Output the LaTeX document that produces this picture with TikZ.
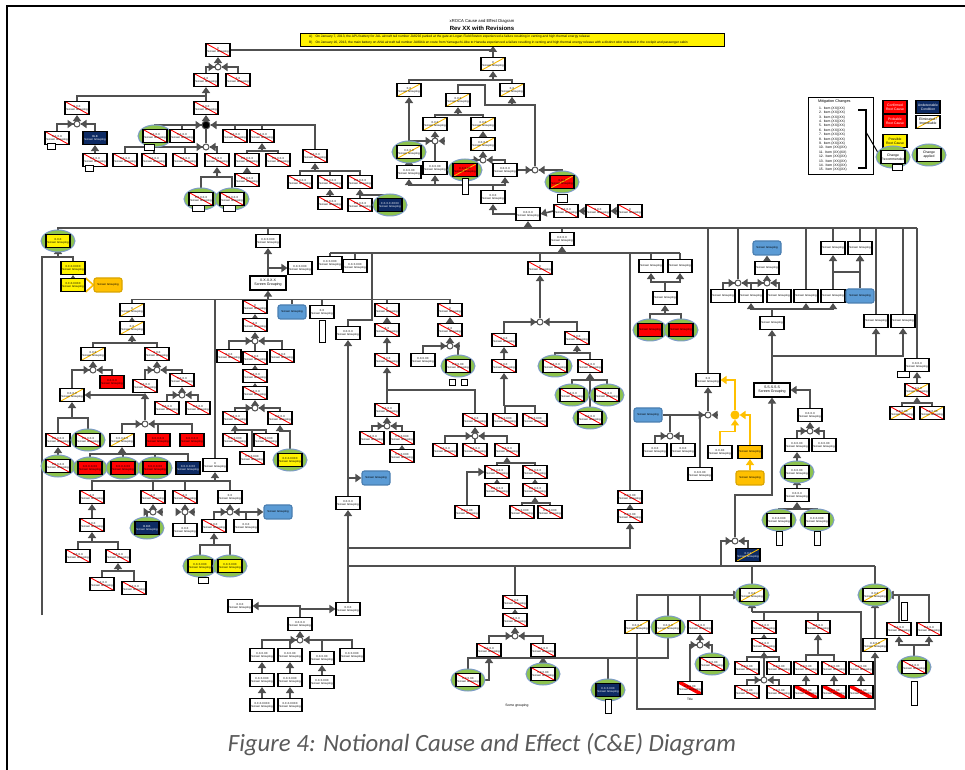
\documentclass[tikz,border=0pt]{standalone}
\usepackage{fontspec}
\setmainfont{Carlito}
\newfontfamily\af{Liberation Sans}
\usetikzlibrary{arrows.meta,shapes.geometric,calc,positioning}
\pgfdeclarelayer{bg}
\pgfsetlayers{bg,main}
\definecolor{lc}{HTML}{505050}
\definecolor{nvc}{HTML}{0D2A63}
\definecolor{slash}{HTML}{F5B800}
\definecolor{boxblue}{HTML}{5B9BD5}
\definecolor{boxblueb}{HTML}{4A7EB0}
\definecolor{amber}{HTML}{FFC000}
\definecolor{amberb}{HTML}{D9A400}
\definecolor{ringg}{HTML}{8DC34F}
\definecolor{ringb}{HTML}{7D9CC8}
\definecolor{capc}{HTML}{5A5A5A}
\tikzset{
 box/.style={draw=black,fill=white,line width=0.55pt,minimum width=12pt,minimum height=6.5pt,inner sep=0.2pt,align=center,font=\af\fontsize{1.4}{1.6}\selectfont},
 wide/.style={minimum width=18pt,minimum height=7pt,font=\af\fontsize{1.8}{2.1}\selectfont},
 lgb/.style={font=\af\fontsize{1.7}{2}\selectfont},
 cr/.style={path picture={\draw[red,line width=0.45pt] (path picture bounding box.north west) -- (path picture bounding box.south east);}},
 cy/.style={path picture={\draw[slash,line width=0.45pt] (path picture bounding box.south west) -- (path picture bounding box.north east);}},
 cx/.style={path picture={\draw[red,line width=0.45pt] (path picture bounding box.north west) -- (path picture bounding box.south east);\draw[slash,line width=0.45pt] (path picture bounding box.south west) -- (path picture bounding box.north east);}},
 hv/.style={path picture={\draw[red,line width=1.8pt] (path picture bounding box.north west) -- (path picture bounding box.south east);}},
 rd/.style={fill=red},
 nv/.style={fill=nvc,text=white},
 yl/.style={fill=yellow},
 bl/.style={fill=boxblue,draw=boxblueb,rounded corners=1.2pt,minimum width=14pt,minimum height=7pt},
 og/.style={fill=amber,draw=amberb,rounded corners=1.2pt,minimum width=14pt,minimum height=7pt},
 orf/.style={fill=amber},
 ring/.style={ellipse,fill=ringg,draw=ringb,line width=0.5pt,minimum width=17pt,minimum height=11pt,inner sep=0},
 gate/.style={circle,draw=lc,fill=white,line width=0.5pt,minimum size=3pt,inner sep=0},
 tag/.style={draw=black,fill=white,line width=0.4pt,minimum width=3pt,minimum height=3pt,inner sep=0},
 ln/.style={draw=lc,line width=0.8pt},
 arr/.style={ln,-{Triangle[length=3pt,width=4pt]}},
 amb/.style={draw=amber,line width=0.8pt},
 yarr/.style={amb,-{Triangle[length=3pt,width=4pt]}}
}
\newcommand\sg{\\Screen Grouping}
\newcommand\bx[5][]{\node[box,#1] (#2) at (#3,#4) {#5};}
\newcommand\rbx[5][]{\node[ring] (#2r) at (#3,#4) {};\node[box,#1] (#2) at (#3,#4) {#5};}
\newcommand\gat[4][]{\node[gate,#1] (#2) at (#3,#4) {};}
\newcommand\kd[3]{\foreach \kk in {#3}{\draw[ln] (\kk.north) |- ($(#1.south)+(0,#2)$);}\draw[arr] ($(#1.south)+(0,#2)$) -- (#1.south);}
\newcommand\gkk[2]{\foreach \kk in {#2}{\draw[ln] (\kk.north) |- (#1);}\draw[arr] ($(#1)+(-9,0)$) -- (#1.west);\draw[arr] ($(#1)+(9,0)$) -- (#1.east);}
\newcommand\gk[3]{\gkk{#1}{#3}\draw[arr] (#1.north) -- (#2.south);}
\begin{document}
\begin{tikzpicture}[x=0.5pt,y=-0.5pt]
\useasboundingbox (0,0) rectangle (965,770);
\draw[line width=1.3pt] (7,770) -- (7,6) -- (965,6);

\node[font=\af\fontsize{2.1}{2.4}\selectfont] (hd) at (482,21) {xROCA Cause and Effect Diagram};
\node[font=\af\bfseries\fontsize{3}{3.4}\selectfont] (rev) at (482,28) {Rev XX with Revisions};
\node[draw=black,fill=yellow,line width=0.5pt,minimum width=212pt,minimum height=6.5pt,anchor=north west,inner sep=0] (ban) at (300,33) {};
\node[anchor=west,font=\af\fontsize{1.65}{2}\selectfont] (evA) at (302,36.5) {A)\quad On January 7, 2013, the APU battery for JAL aircraft tail number JA829J parked at the gate at Logan Field Boston experienced a failure resulting in venting and high thermal energy release};
\node[anchor=west,font=\af\fontsize{1.65}{2}\selectfont] (evB) at (302,42.5) {B)\quad On January 16, 2013, the main battery on ANA aircraft tail number JA804A en route from Yamaguchi-Ube to Haneda experienced a failure resulting in venting and high thermal energy release with a distinct odor detected in the cockpit and passenger cabin};
\coordinate (top) at (493,46);

\node[draw=black,line width=0.5pt,minimum width=32.5pt,minimum height=38.5pt,inner sep=0,anchor=north west] (lgd) at (808,97) {};
\node[anchor=west,font=\af\fontsize{1.9}{2.2}\selectfont] (lgh) at (811,102) {Mitigation Changes};
\foreach \i in {1,...,15} \node[anchor=west,font=\af\fontsize{1.7}{2}\selectfont] (li\i) at (812,104+\i*4.4) {\i.\ \ Item (XX)(XX)};
\draw[line width=0.6pt] (858,110) -- (866,110) -- (866,168) -- (858,168);
\coordinate (brk) at (866,132);
\bx[rd,lgb,text=white]{lg1}{895}{107}{Confirmed\\Root Cause}
\bx[nv,lgb]{lg2}{928}{107}{Undetectable\\Condition}
\bx[rd,lgb,text=white]{lg3}{895}{121}{Probable\\Root Cause}
\bx[cy,lgb]{lg4}{928}{122}{Eliminated /\\Improbable}
\bx[yl,lgb]{lg5}{895}{141}{Possible\\Root Cause}
\rbx[lgb]{lg6}{893}{157}{Change\\Recommended}
\node[tag,minimum width=5pt] (tlg6) at (897,167) {};
\rbx[lgb]{lg7}{929}{155}{Change\\applied}

\bx[cr]{A0}{218}{50}{X\sg}
\bx[cr]{A1}{206}{80}{X.X\sg}
\bx[cr]{A2}{238}{80}{X.X\sg}
\gat{gA0}{218}{67}
\bx[cr]{A3}{77}{108}{X.X.X\sg}
\bx[cr]{A4}{206}{108}{X.X.X\sg}
\gat[fill=black,minimum size=4pt]{gA4}{206}{125}
\rbx[cr]{A5}{155}{136}{X.X.X.X\sg}
\bx[cr]{A6}{182}{136}{X.X.X.X\sg}
\gat{ga}{206}{147}
\bx[cr]{A8}{235}{136}{X.X.X.X\sg}
\bx[cr]{A9}{262}{136}{X.X.X.X\sg}
\bx[cr]{A10}{315}{156}{X.X.X.X\sg}
\bx[cr]{A11}{125}{160}{X.X.X.X\sg}
\bx[cr]{A12}{154}{160}{X.X.X.X\sg}
\bx[cr]{A13}{185}{160}{X.X.X.X\sg}
\bx[cr]{A14}{217}{160}{X.X.X.X\sg}
\rbx[cr]{A15}{201}{199}{X.X.X.X.X\sg}
\rbx[cr]{A16}{232}{199}{X.X.X.X.X\sg}
\bx[cr]{A17}{247}{160}{X.X.X.X.X\sg}
\bx[cr]{A18}{278}{160}{X.X.X.X.X\sg}
\bx[cr]{A19}{247}{180}{X.X.X.X.X\sg}
\gat{gA3}{77}{124}
\bx[cr]{A20}{57}{138}{X.X.X.X\sg}
\bx[nv]{A21}{95}{138}{BLB\sg}
\bx[cr]{A22}{95}{160}{X.X.X.X\sg}
\bx[cr]{A23}{300}{182}{X.X.X.X.X\sg}
\bx[cr]{A24}{330}{182}{X.X.X.X.X\sg}
\bx[cr]{A25}{360}{182}{X.X.X.X.X\sg}
\bx[cr]{A26}{330}{203}{X.X.X.X.X\sg}
\bx[cr]{A27}{360}{205}{X.X.X.X.X\sg}
\rbx[nv]{A28}{390}{205}{X.X.X.X.XXXX\sg}
\node[tag,minimum width=5pt] (tA5) at (149,147) {};
\node[tag,minimum width=4pt] (tA20) at (51,146) {};
\node[tag,minimum width=4pt] (tA22) at (89,168) {};
\node[tag,minimum width=6pt] (tA15) at (198,208) {};
\node[tag,minimum width=6pt] (tA16) at (229,208) {};

\bx[cy]{B0}{493}{64}{X\sg}
\bx[cy]{B1}{409}{90}{X.X\sg}
\bx[cy]{B2}{512}{90}{X.X\sg}
\bx[cy]{B3}{458}{100}{X.X.X\sg}
\bx[cy]{B4}{435}{124}{X.X.X\sg}
\bx[cy]{B5}{483}{124}{X.X.X\sg}
\gat{gB4}{435}{141}
\rbx[cy]{B7}{409}{152}{X.X.X.X\sg}
\bx{B8}{435}{168}{X.X.X.XX\sg}
\bx{B9}{409}{172}{X.X.X.XX\sg}
\bx[cy]{B6}{483}{144}{X.X.X.X\sg}
\gat{gB6}{483}{160}
\rbx[rd,cy]{B10}{465}{170}{X.X.X.XX\sg}
\bx{B11}{505}{170}{X.X.X.X\sg}
\gat{gB12}{535}{170}
\rbx[rd,cy]{B12}{562}{182}{X.X.X\sg}
\bx{B13}{493}{197}{X.X.X\sg}
\bx{B14}{528}{214}{X.X.X.X\sg}
\bx[cr]{B15}{566}{211}{X.X.X.X\sg}
\bx[cr]{B16}{598}{211}{X.X.X\sg}
\bx[cr]{B17}{630}{211}{X\sg}
\node[tag,minimum height=8pt] (tB10) at (465,186) {};
\node[tag,minimum width=5pt,minimum height=4pt] (tB12) at (562,198) {};

\coordinate (spR) at (917,228);
\coordinate (bC8) at (562,253);
\coordinate (v1) at (372,320);
\coordinate (lv) at (42,615);
\rbx[yl]{C0}{58}{241}{X.X.X\sg}
\bx[yl]{C1}{73}{268}{X.X.X.XXXX\sg}
\bx[yl]{C2}{73}{285}{X.X.X.XXXX\sg}
\bx[og]{C3}{108}{285}{Screen Grouping}
\bx{C4}{268}{241}{X.X.X.XXX\sg}
\bx[wide]{C5}{268}{283}{X.X.X.X.X\sg}
\bx{C6}{300}{268}{X.X.X.XXX\sg}
\bx{C7}{330}{263}{X.X.X.XXX\sg}
\bx{C7b}{355}{266}{X.X.X.XXX\sg}
\bx{C8}{562}{239}{X.X.X.X\sg}
\bx[cy]{C9}{132}{310}{X\sg}
\bx[cy]{C10}{132}{328}{X.X\sg}
\bx{C11}{215}{465}{X\sg}
\bx[cr]{C12}{255}{307}{X\sg}
\bx[cr]{C13}{255}{325}{X.X\sg}
\gat{gC13}{255}{341}
\bx[cr]{C14}{229}{356}{X.X.X\sg}
\bx[cr]{C15}{255}{358}{X.X.X\sg}
\bx[cr]{C16}{282}{356}{X.X.X\sg}
\bx[cr]{C17}{255}{376}{X.X.X.X\sg}
\bx[cr]{C18}{255}{393}{X.X.X.X\sg}
\gat{gC18}{255}{408}
\bx[cr]{C19}{235}{418}{X.X.X.X\sg}
\bx[cr]{C20}{280}{418}{X.X.X.X\sg}
\bx[cr]{C21}{235}{440}{X.X.X.XXX\sg}
\bx[cr]{C22}{266}{440}{X.X.X.XXX\sg}
\bx[cr]{C23}{252}{458}{X.X.X.XXX\sg}
\rbx[yl]{C24}{290}{460}{X.X.X.XXXX\sg}
\bx[bl]{C25}{292}{312}{Screen Grouping}
\bx{C26}{322}{312}{X.X\sg}
\node[tag,minimum height=11pt] (tC26) at (322,331) {};

\bx[cy]{L1}{93}{354}{X.X.X\sg}
\bx[cr]{L2}{157}{354}{X.X.X\sg}
\gat{gL1}{93}{370}
\bx[cy]{L3}{72}{395}{X.X.X.X\sg}
\bx[rd]{L4}{112}{382}{X.X.X.X\sg}
\gat{gL2}{157}{370}
\bx[cr]{L5}{145}{386}{X.X.X.X\sg}
\bx[cr]{L6}{182}{380}{X.X.X.X\sg}
\gat{gL6}{182}{395}
\bx[cr]{L7}{167}{408}{X.X.X.X\sg}
\bx[cr]{L8}{198}{408}{X.X.X.X\sg}
\gat{gL5}{145}{424}
\bx[cy]{L12}{122}{440}{X.X.X.X.X\sg}
\bx[rd]{L13}{158}{440}{X.X.X.X.X\sg}
\bx[rd]{L14}{192}{440}{X.X.X.X.X\sg}
\bx[cr]{L9}{58}{440}{X.X.X.X.X\sg}
\rbx[cr]{L10}{88}{440}{X.X.X.X.X\sg}
\rbx[cr]{L11}{58}{466}{X.X.X.X.X\sg}
\rbx[rd]{L15}{90}{468}{X.X.X.X.XX\sg}
\rbx[rd]{L16}{123}{468}{X.X.X.X.XX\sg}
\rbx[rd]{L17}{155}{468}{X.X.X.X.XX\sg}
\bx[nv]{L18}{188}{468}{X.X.X.X.XX\sg}

\bx[cr]{E1}{92}{497}{X.X\sg}
\bx[cr]{E7}{153}{497}{X.X\sg}
\bx[cr]{E8}{185}{497}{X.X\sg}
\bx{E9}{230}{497}{X.X\sg}
\bx[cr]{E2}{92}{525}{X.X.X\sg}
\bx[cr]{E3}{78}{556}{X.X.X.X\sg}
\bx[cr]{E4}{118}{556}{X.X.X.X\sg}
\bx[cr]{E5}{102}{584}{X.X.X.X\sg}
\bx[cr]{E6}{134}{588}{X.X.X.X\sg}
\gat{gE7}{153}{512}
\rbx[nv]{E13}{147}{528}{B.B.B\sg}
\gat{gE8}{185}{512}
\bx{E14}{185}{530}{X.X.X\sg}
\gat{gE9}{230}{512}
\bx[cr]{E10}{214}{526}{X.X.X\sg}
\bx{E11}{246}{526}{X.X.X\sg}
\bx[bl]{E12}{278}{512}{Screen Grouping}
\rbx[yl]{E15}{200}{566}{X.X.X.XXX\sg}
\rbx[yl]{E16}{230}{566}{X.X.X.XXX\sg}
\node[tag,minimum width=5pt] (tE15) at (203,580) {};

\bx{P1}{240}{606}{X.X.X\sg}
\bx{P2}{348}{609}{X.X.X\sg}
\bx{P3}{300}{624}{X.X.X.X\sg}
\gat{gP3}{300}{640}
\bx{P4}{262}{655}{X.X.X.XX\sg}
\bx{P5}{290}{655}{X.X.X.XX\sg}
\bx{P6}{322}{658}{X.X.X.XX\sg}
\bx{P7}{352}{655}{X.X.X.XXX\sg}
\bx{P8}{262}{680}{X.X.X.XXX\sg}
\bx{P9}{290}{680}{X.X.X.XXX\sg}
\bx{P12}{322}{682}{X.X.X.XXX\sg}
\bx{P10}{262}{705}{X.X.X.XXXX\sg}
\bx{P11}{290}{705}{X.X.X.XXXX\sg}

\bx{M1}{348}{333}{X.X.X.X\sg}
\bx[bl]{M2}{376}{478}{Screen Grouping}
\bx{M3}{348}{503}{X.X.X.X\sg}
\bx[cr]{M4}{387}{310}{X\sg}
\bx[cr]{M5}{387}{330}{X.X\sg}
\bx[cr]{M6}{387}{360}{X.X.X\sg}
\bx[cr]{M7}{387}{410}{X.X.X.X\sg}
\gat{gM7}{387}{426}
\bx[cr]{M8}{372}{438}{X.X.X.X\sg}
\bx[cr]{M9}{402}{438}{X.X.X.XXX\sg}
\bx[cr]{M10}{402}{456}{X.X.X.XXX\sg}
\bx[cr]{M11}{450}{310}{X\sg}
\bx[cr]{M12}{450}{330}{X.X\sg}
\gat{gM12}{450}{346}
\bx{M13}{423}{360}{X.X.X.XX\sg}
\rbx[cr]{M14}{458}{366}{X.X.X.XX\sg}
\node[tag] (tM14a) at (452,382) {};
\node[tag] (tM14b) at (464,382) {};
\bx[cr]{M15}{475}{420}{X.X.X\sg}
\bx[cr]{M16}{505}{420}{X.X.X.XXX\sg}
\bx[cr]{M17}{535}{420}{X.X.X.XXX\sg}
\bx[cr]{M18}{504}{366}{X.X.X\sg}
\bx[cr]{M19}{504}{340}{X.X.X\sg}
\bx[cr]{M20}{540}{268}{X\sg}
\gat{gM20}{540}{322}
\bx[cr]{M21}{577}{338}{X.X.X\sg}
\rbx[cr]{M22}{555}{366}{X.X.X.X\sg}
\bx[cr]{M23}{590}{366}{X.X.X.X\sg}
\rbx[cr]{M24}{572}{395}{X.X.X.X\sg}
\rbx[cr]{M25}{607}{395}{X.X.X.X\sg}
\rbx[cr]{M26}{590}{418}{X.X.X.X\sg}
\gat{gM15}{475}{436}
\bx[cr]{M27}{445}{450}{X.X.X.X\sg}
\bx[cr]{M28}{475}{450}{X.X.X.X\sg}
\bx[cr]{M29}{507}{450}{X.X.X.X\sg}
\bx[cr]{M30}{497}{472}{X.X.X.X.X\sg}
\bx[cr]{M31}{535}{472}{X.X.X.X.X\sg}
\bx[cr]{M32}{497}{490}{X.X.X.X.X\sg}
\bx[cr]{M33}{535}{490}{X.X.X.X.X\sg}
\bx[cr]{M34}{522}{512}{X.X.X.XXX\sg}
\bx[cr]{M35}{550}{512}{X.X.X.XXX\sg}
\bx[cr]{M36}{467}{512}{X.X.X.XX\sg}
\bx[cr]{K1}{630}{497}{X.X.X.XX\sg}
\bx[cr]{K2}{630}{516}{X.X.X.XX\sg}
\coordinate (w3) at (348,548);
\coordinate (w1) at (348,566);
\coordinate (w2) at (875,566);

\bx{D24}{651}{266}{Screen Grouping}
\bx{D25}{680}{266}{Screen Grouping}
\coordinate (bD26) at (665,282);
\bx{D26}{665}{298}{Screen Grouping}
\rbx[rd]{D27}{650}{330}{Screen Grouping}
\rbx[rd]{D28}{681}{330}{Screen Grouping}
\bx{D1}{708}{380}{X.X\sg}
\bx[bl]{D2}{648}{415}{Screen Grouping}
\gat{gD1}{708}{415}
\gat{gH1}{670}{436}
\bx{H1}{655}{450}{X.X.X\sg}
\bx{H2}{683}{450}{X.X.X\sg}
\bx{H6}{700}{474}{X.X.X.XX\sg}
\node[gate,draw=amber,fill=amber,minimum size=4pt] (oG) at (735,415) {};
\bx{H3}{720}{452}{X.X.XX\sg}
\bx[orf]{H4}{750}{452}{Screen Grouping}
\bx[og]{H5}{750}{478}{Screen Grouping}
\gat{g1}{738}{283}
\gat{g2}{767}{283}
\bx{D3}{723}{296}{Screen Grouping}
\bx{D4}{751}{296}{Screen Grouping}
\bx{D5}{779}{296}{Screen Grouping}
\bx{D6}{806}{296}{Screen Grouping}
\bx{D7}{833}{296}{Screen Grouping}
\bx[bl]{D13}{860}{296}{Screen Grouping}
\bx[bl]{D14}{767}{248}{Screen Grouping}
\bx{D15}{767}{268}{Screen Grouping}
\bx{D8}{833}{248}{Screen Grouping}
\bx{D9}{860}{248}{Screen Grouping}
\coordinate (bE) at (833,272);
\bx{D16}{772}{323}{Screen Grouping}
\coordinate (bD) at (772,309);
\bx[wide]{D17}{772}{390}{S.S.S.S.S\sg}
\coordinate (bD2) at (772,356);
\bx{D10}{876}{321}{Screen Grouping}
\bx{D11}{903}{321}{Screen Grouping}
\bx{D12}{917}{365}{X.X.X.X\sg}
\node[tag,minimum width=6pt] (tD12) at (903,374) {};
\bx[cx]{D18}{917}{390}{X.X.X.X\sg}
\bx[cx]{D19}{902}{413}{X.X.X.XX\sg}
\bx[cx]{D20}{932}{413}{X.X.X.XX\sg}
\bx{D21}{810}{415}{X.X.X.X\sg}
\gat{gD21}{810}{431}
\bx{D22}{797}{445}{X.X.X.XX\sg}
\bx{D23}{824}{445}{X.X.X.XX\sg}
\rbx{H7}{797}{472}{X.X.X.XX\sg}
\bx{H8}{797}{495}{X.X.X.X\sg}
\rbx{H9}{779}{520}{X.X.X.XXX\sg}
\rbx{H10}{817}{520}{X.X.X.XXX\sg}
\node[tag,minimum height=7pt] (tH9) at (779,538) {};
\node[tag,minimum height=7pt] (tH10) at (817,538) {};
\coordinate (jN) at (772,495);
\gat{gN}{735}{541}
\bx[nv,cy]{N1}{748}{555}{X.X.X\sg}
\coordinate (gNl) at (721,541);

\rbx[cy]{Q1}{752}{595}{X.X.X\sg}
\rbx[cy]{Q2}{875}{595}{X.X.X\sg}
\node[tag,minimum height=9pt] (tQ2) at (904,611) {};
\bx[cy]{Q3}{637}{627}{X.X.X.X\sg}
\rbx[cy]{Q4}{668}{627}{X.X.X.X\sg}
\bx[cr]{Q5}{700}{627}{X.X.X.X\sg}
\gat{gQ5}{700}{645}
\rbx[cr]{Q6}{712}{664}{X.X.X.XX\sg}
\bx[hv]{Q7}{690}{688}{X.X.X.XX\sg}
\node[font=\af\fontsize{1.6}{2}\selectfont] (tQ7) at (690,699) {Title};
\coordinate (jQ) at (637,709);
\bx[cy]{Q8}{875}{645}{X.X.X.X\sg}
\bx[cr]{Q9}{899}{629}{X.X.X.X\sg}
\bx[cr]{Q10}{929}{629}{X.X.X.X\sg}
\rbx[cr]{Q11}{914}{667}{X.X.X.X\sg}
\coordinate (bQ) at (914,645);
\node[tag,minimum height=12pt] (tQ11) at (914,693) {};
\bx[cr]{Q12}{764}{627}{X.X.X.X\sg}
\bx[cr]{Q13}{818}{627}{X.X.X.X\sg}
\bx[cr]{Q14}{764}{645}{X.X.X.X\sg}
\bx[cr]{Q18}{747}{668}{X.X.X.XX\sg}
\bx[cr]{Q19}{779}{668}{X.X.X.XX\sg}
\gat{gQ20}{764}{680}
\bx[cr]{Q20}{747}{692}{X.X.X.XX\sg}
\bx[cr]{Q21}{779}{692}{X.X.X.XX\sg}
\bx[cr]{Q16}{806}{668}{X.X.X.XX\sg}
\bx[cr]{Q17}{834}{668}{X.X.X.XX\sg}
\bx[cr]{Q24}{861}{668}{X.X.X.XX\sg}
\bx[hv]{Q22}{806}{692}{X.X.X.XX\sg}
\bx[hv]{Q23}{834}{692}{X.X.X.XX\sg}
\bx[hv]{Q25}{861}{692}{X.X.X.XX\sg}
\rbx[nv]{N2}{608}{690}{X.X.X.XXX\sg}
\node[tag,minimum height=7pt] (tN2) at (608,706) {};
\coordinate (w4) at (468,658);

\bx[cr]{F1}{515}{602}{X.X.X\sg}
\bx[cr]{F2}{515}{620}{X.X.X.X\sg}
\gat{gF2}{515}{636}
\bx[cr]{F3}{489}{650}{X.X.X.X\sg}
\bx[cr]{F5}{543}{650}{X.X.X.X\sg}
\rbx[cr]{F6}{468}{680}{X.X.X.XX\sg}
\rbx[cr]{F7}{543}{674}{X.X.X.XX\sg}
\node[font=\af\fontsize{1.7}{2}\selectfont] (sgF) at (517,706) {Some grouping};

\node[font=\fontsize{12.4}{14}\selectfont\itshape,text=capc] (cap) at (482,745) {Figure 4: Notional Cause and Effect (C\&E) Diagram};

\begin{pgfonlayer}{bg}
\draw[line width=0.5pt] (brk) -- (lg6.west);
\draw[arr] (B0.north) -- (top);
\draw[ln] (A0.east) -- (A0.east -| B0.north);
\gk{gA0}{A0}{A1,A2}
\kd{A1}{9}{A3,A4}
\gk{gA4}{A4}{A5,A6,ga,A8,A9,A10}
\gkk{ga}{A11,A12,A13,A14}
\kd{A14}{10}{A15,A16}
\kd{A9}{8}{A17,A18}
\draw[arr] (A19.north) -- (A17.south);
\gk{gA3}{A3}{A20,A21}
\draw[arr] (A22.north) -- (A21.south);
\kd{A10}{8}{A23,A24,A25}
\draw[arr] (A26.north) -- (A24.south);
\kd{A25}{6}{A27,A28}

\kd{B0}{9}{B1,B2}
\draw[arr] (B3.north) -- ++(0,-8) -| ($(B2.south)+(-27,8)$) -| (B2.south);
\kd{B3}{8}{B4,B5}
\gk{gB4}{B4}{B7,B8}
\draw[arr] (B7.north) -- (B1.south);
\draw[arr] (B9.north) -- (B7.south);
\draw[arr] (B6.north) -- (B5.south);
\gk{gB6}{B6}{B10,B11}
\gkk{gB12}{B12}
\draw[ln] (B11.east) -- (gB12.west);
\draw[arr] (gB12.north) |- ($(B2.south)+(0,8)$) -- (B2.south);
\coordinate (bB) at (493,185);
\draw[ln] (B13.north) -- (bB);
\foreach \kk in {B9,B8,B11} \draw[arr] (bB) -| (\kk.south);
\draw[arr] (B14.west) -| (B13.south);
\draw[arr] (B15.west) -- (B14.east);
\draw[arr] (B16.west) -- (B15.east);
\draw[arr] (B17.west) -- (B16.east);
\draw[arr] (B14.south |- spR) -- (B14.south);

\draw[ln] (C0.north) |- (spR);
\foreach \kk in {C4,C8,D1,g1,D6,D8,D9,D10,D11,D12} \draw[ln] (\kk.north) -- (\kk.north |- spR);
\kd{C0}{9}{C1}
\draw[ln] (lv) |- ($(C0.south)+(0,9)$);
\draw[arr] (C2.north) -- (C1.south);
\draw[amb] (C3.west) -- (C2.north east);
\draw[amb] (C3.west) -- (C2.south east);
\draw[arr] (C5.north) -- (C4.south);
\draw[arr] (C5.north |- C6.west) -- (C6.west);
\kd{C5}{9}{C9,C11,C12,C25,C26,M4,M11}
\draw[arr] (C10.north) -- (C9.south);
\kd{C10}{8}{L1,L2}
\gk{gL1}{L1}{L3,L4}
\gk{gL2}{L2}{L5,L6}
\gk{gL6}{L6}{L7,L8}
\gk{gL5}{L5}{L12,L13,L14}
\draw[arr] (gL5) |- (L3.east);
\kd{L3}{16}{L9,L10}
\draw[arr] (L11.north) -- (L9.south);
\kd{L12}{7}{L15,L16,L17,L18}
\draw[arr] (C13.north) -- (C12.south);
\gk{gC13}{C13}{C14,C15,C16}
\draw[arr] (C17.north) -- (C15.south);
\draw[arr] (C18.north) -- (C17.south);
\gk{gC18}{C18}{C19,C20}
\kd{C19}{5}{C21,C22,C23}
\kd{C20}{6}{C24}
\kd{C11}{9}{E1,E7,E8,E9}
\draw[arr] (E2.north) -- (E1.south);
\kd{E2}{10}{E3,E4}
\kd{E4}{8}{E5,E6}
\gk{gE7}{E7}{E13}
\gk{gE8}{E8}{E14}
\gk{gE9}{E9}{E10,E11}
\draw[arr] (gE9) -- (E12.west);
\kd{E10}{12}{E15,E16}

\draw[arr] (P3.north) |- (P1.east);
\draw[arr] (P3.north) |- (P2.west);
\gk{gP3}{P3}{P4,P5,P6,P7}
\draw[arr] (P8.north) -- (P4.south);
\draw[arr] (P9.north) -- (P5.south);
\draw[arr] (P10.north) -- (P8.south);
\draw[arr] (P11.north) -- (P9.south);
\draw[arr] (P12.north) -- (P6.south);
\draw[arr] (P2.north) -- (M3.south);

\draw[ln] (M1.north) |- (v1) -- (v1 |- bC8);
\draw[arr] (M3.north) -- (M1.south);
\draw[arr] (M3.north |- M2.west) -- (M2.west);
\draw[arr] (M5.north) -- (M4.south);
\draw[arr] (M6.north) -- (M5.south);
\kd{M6}{23}{M7,M15}
\gk{gM7}{M7}{M8,M9}
\draw[arr] (M10.north) -- (M9.south);
\draw[arr] (M12.north) -- (M11.south);
\gk{gM12}{M12}{M13,M14}
\draw[arr] (M18.north) -- (M19.south);
\kd{M18}{33}{M16,M17}
\gk{gM20}{M20}{M19,M21}
\kd{M21}{8}{M22,M23}
\kd{M23}{7}{M24,M25,M26}
\gk{gM15}{M15}{M27,M28,M29}
\kd{M29}{6}{M30,M31}
\draw[arr] (M32.north) -- (M30.south);
\draw[arr] (M33.north) -- (M31.south);
\kd{M33}{6}{M34,M35}
\draw[arr] (M36.north) |- (M30.west);

\draw[arr] (bC8) -- (C8.south);
\draw[ln] (C7.north |- bC8) -- (D25.north |- bC8);
\foreach \kk in {C7,C7b,M20,K1,D24,D25} \draw[ln] (\kk.north) -- (\kk.north |- bC8);
\draw[arr] (K2.north) -- (K1.south);
\draw[arr] (w3) -| (K2.south);

\draw[ln] (D26.north) -- (bD26);
\draw[arr] (bD26) -| (D24.south);
\draw[arr] (bD26) -| (D25.south);
\kd{D26}{9}{D27,D28}
\gk{gD1}{D1}{gH1,H6}
\draw[ln] (D2.east) -- (gD1.west);
\gkk{gH1}{H1,H2}
\draw[yarr] (H3.north) |- ($(oG.south)+(0,12)$) -- (oG.south);
\draw[yarr] (H4.north) |- (oG.east);
\draw[yarr] (H5.north) -- (H4.south);
\draw[yarr] (oG.north) |- (D1.east);
\gkk{g1}{D3,D4}
\gk{g2}{D15}{D4,D5}
\draw[arr] (D15.north) -- (D14.south);
\draw[ln] (D16.north) -- (bD);
\foreach \kk in {D4,D6,D7} \draw[arr] (bD) -| (\kk.south);
\draw[arr] (D17.north) -- (D16.south);
\draw[arr] (bD2) -| (D10.south);
\draw[arr] (bD2) -| (D11.south);
\draw[ln] (D7.north) -- (bE);
\draw[arr] (bE) -- (D8.south);
\draw[arr] (bE) -| (D9.south);
\draw[arr] (D13.north) -- (D9.south);
\draw[arr] (D18.north) -- (D12.south);
\kd{D18}{6}{D19,D20}
\draw[arr] (D21.north) |- (D17.east);
\gk{gD21}{D21}{D22,D23}
\draw[arr] (H7.north) -- (D22.south);
\draw[arr] (H8.north) -- (H7.south);
\kd{H8}{7}{H9,H10}
\gkk{gN}{N1}
\draw[arr] (gN.north) |- (jN) -- (D17.south);
\draw[ln] (gNl |- w1) -- (gNl) -- (gN.west);

\draw[ln] (w1) -- (w2);
\draw[ln] (Q1.north) -- (Q1.north |- w1);
\draw[ln] (Q2.north) -- (Q2.north |- w1);
\draw[ln] (F1.north) -- (F1.north |- w1);
\foreach \kk in {Q3,Q4,Q5} \draw[arr] (\kk.north) |- (Q1.west);
\gk{gQ5}{Q5}{Q7,Q6}
\draw[arr] (Q3.south) -- (Q3.south |- jQ) -| (Q8.south);
\draw[arr] (Q8.north) -- (Q2.south);
\draw[arr] (Q9.north) |- (Q2.east);
\draw[arr] (Q10.north) |- (Q2.east);
\draw[ln] (Q11.north) -- (bQ);
\draw[arr] (bQ) -| (Q9.south);
\draw[arr] (bQ) -| (Q10.south);
\kd{Q1}{10}{Q12,Q13,Q24}
\draw[arr] (Q14.north) -- (Q12.south);
\kd{Q14}{5}{Q18,Q19}
\gk{gQ20}{Q14}{Q20,Q21}
\kd{Q13}{21}{Q16,Q17}
\draw[arr] (Q22.north) -- (Q16.south);
\draw[arr] (Q23.north) -- (Q17.south);
\draw[arr] (Q25.north) -- (Q24.south);

\draw[arr] (F2.north) -- (F1.south);
\gk{gF2}{F2}{F3,F5}
\draw[arr] (F7.north) -- (F5.south);
\draw[arr] (F6.east) -| (F3.south);
\draw[ln] (F6.north) -- (w4) -| (Q4.south);
\draw[ln] (N2.north) -- (N2.north |- w4);
\end{pgfonlayer}
\end{tikzpicture}
\end{document}
